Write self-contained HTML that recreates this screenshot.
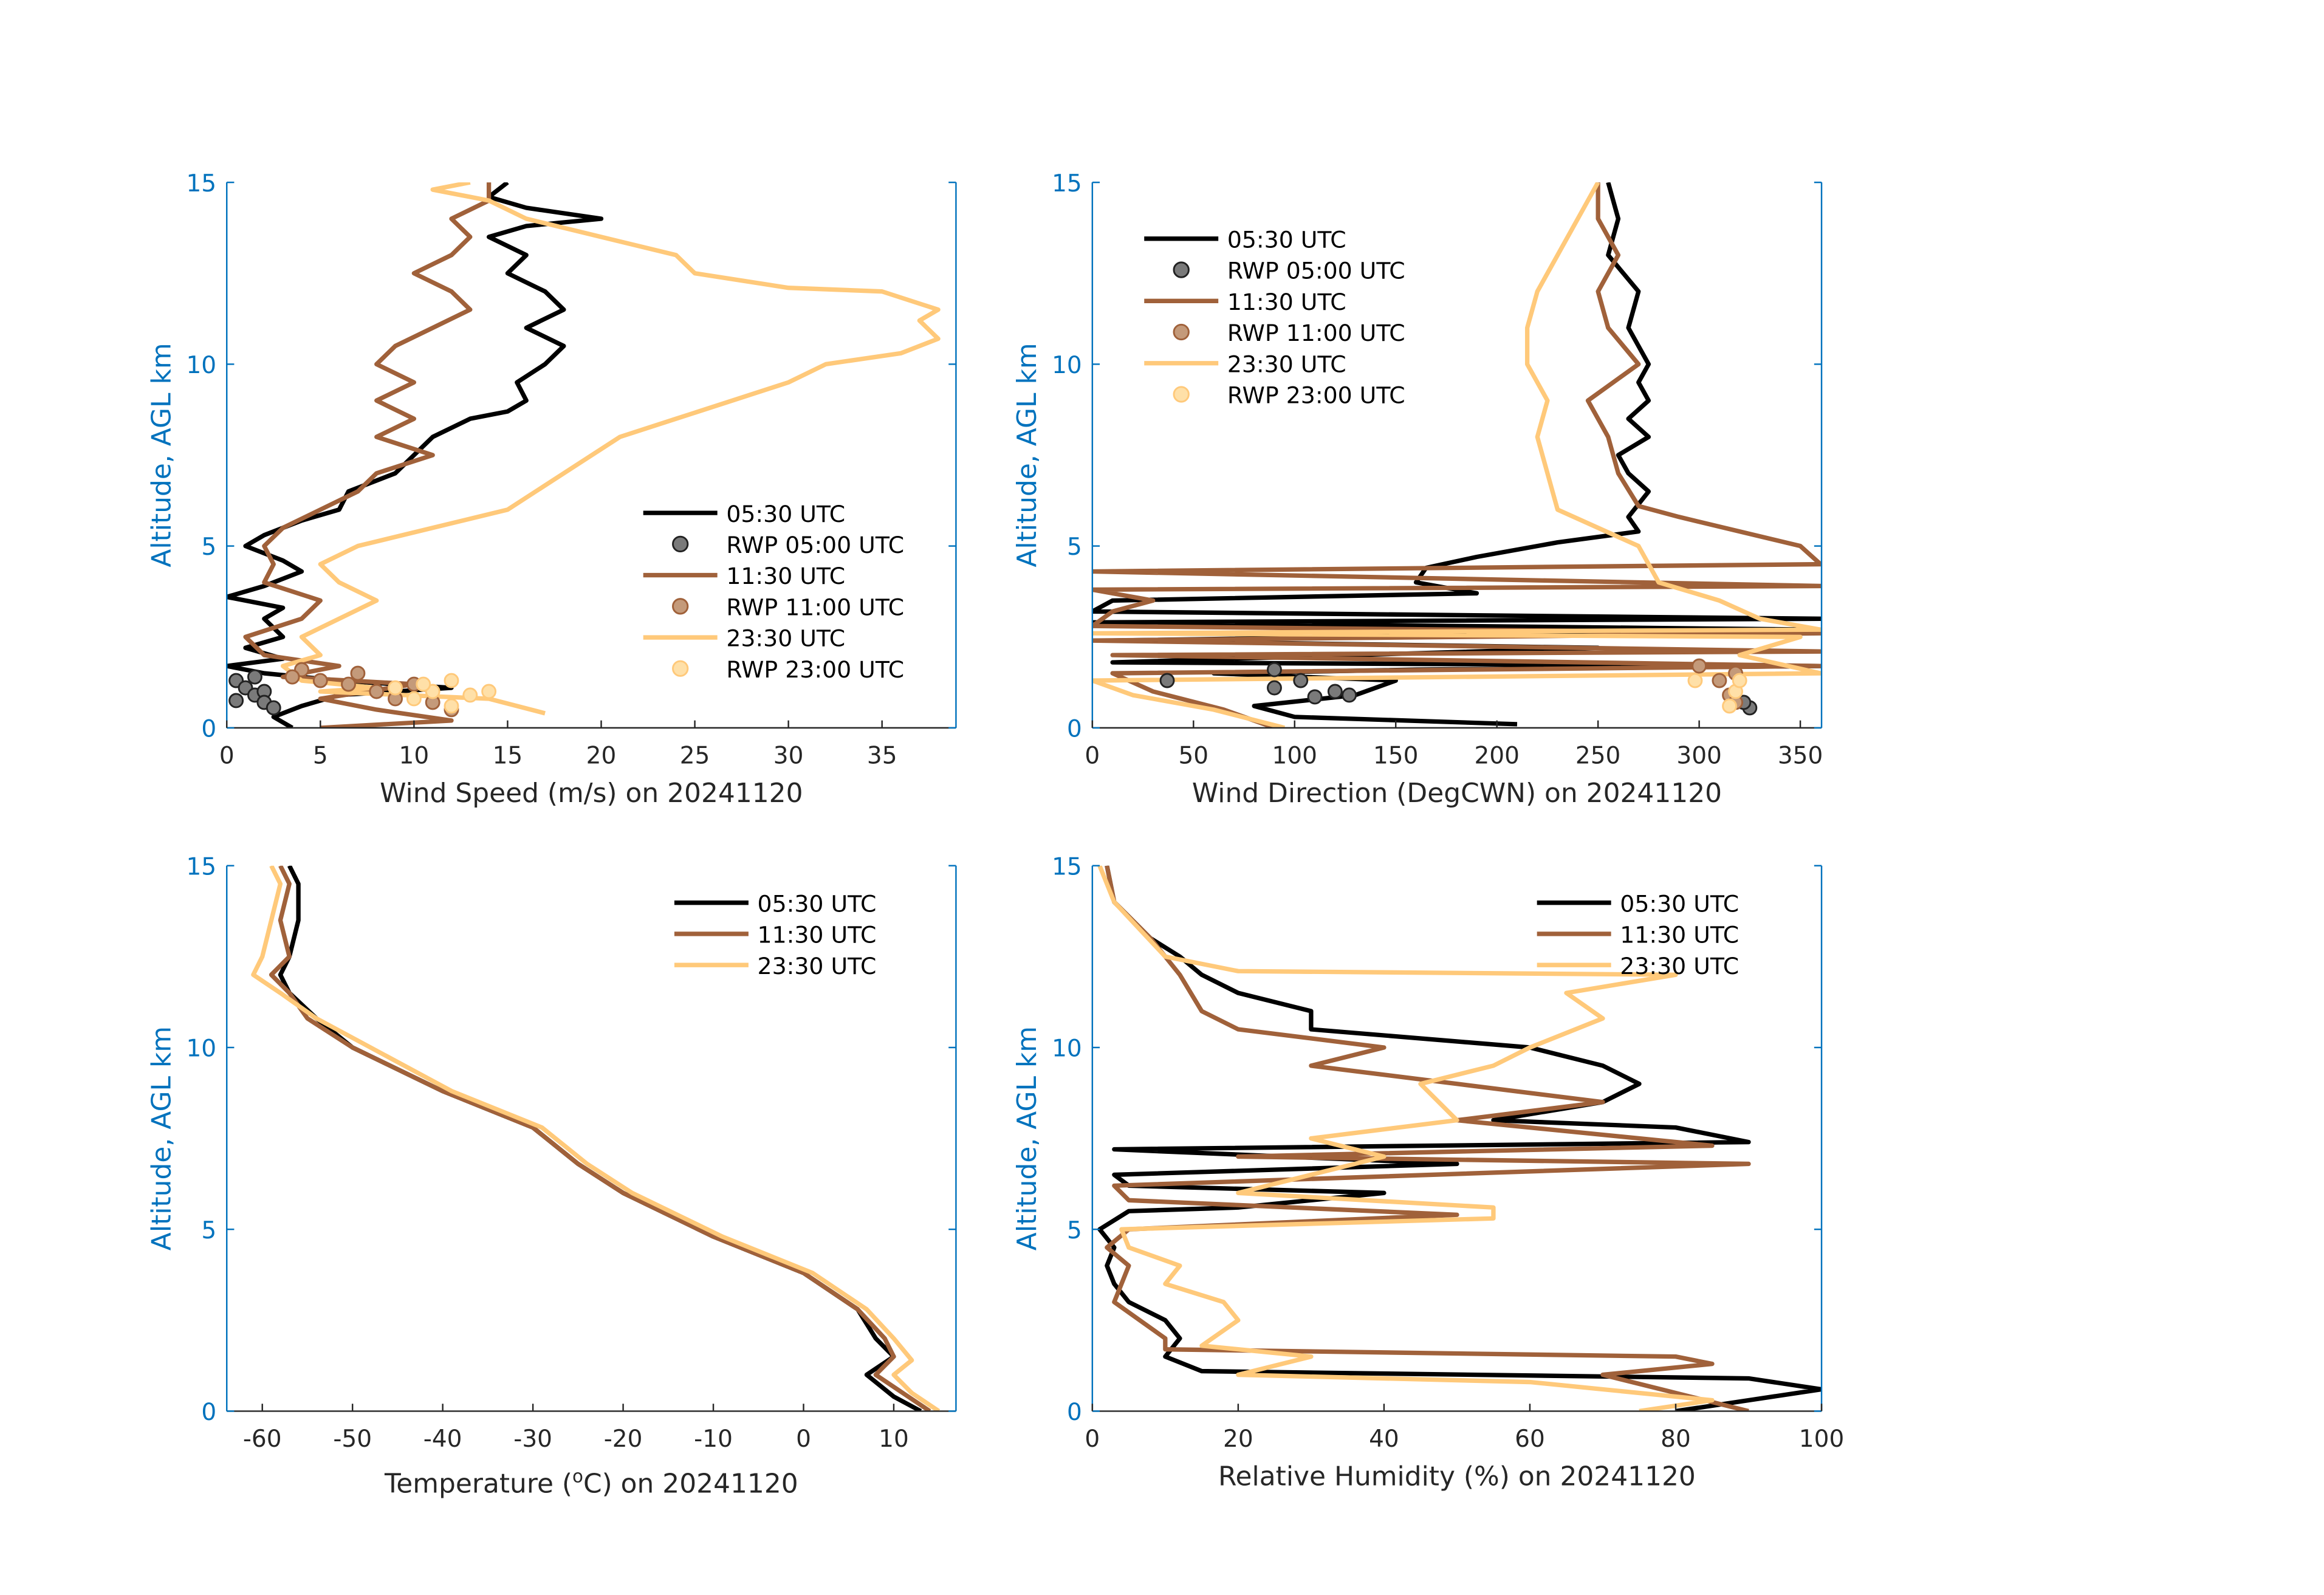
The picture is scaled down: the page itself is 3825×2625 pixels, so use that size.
<!DOCTYPE html>
<html><head><meta charset="utf-8">
<style>
html,body{margin:0;padding:0;background:#fff}
svg{display:block}
text{font-family:"DejaVu Sans","Liberation Sans",sans-serif}
</style></head>
<body>
<svg id="fig" xmlns="http://www.w3.org/2000/svg" width="3825" height="2625" viewBox="0 0 1568 1076">
<rect width="1568" height="1076" fill="#fff"/>
</svg>
<script>
// ---------- Data ----------
const seriesNames = ["05:30 UTC","11:30 UTC","23:30 UTC"];
const rwpNames = ["RWP 05:00 UTC","RWP 11:00 UTC","RWP 23:00 UTC"];
const altTicks = [0,5,10,15];
// Wind speed (value, km)
const ws0530 = [[3.5,0],[2.5,0.3],[4,0.6],[6,0.9],[12,1.1],[6,1.3],[2,1.5],[0,1.7],[3,1.9],[1,2.2],[3,2.5],[2,3],[3,3.3],[0,3.6],[2,3.9],[4,4.3],[3,4.6],[1,5],[2,5.3],[4,5.7],[6,6],[6.5,6.5],[9,7],[10,7.5],[11,8],[13,8.5],[15,8.7],[16,9],[15.5,9.5],[17,10],[18,10.5],[16,11],[18,11.5],[17,12],[15,12.5],[16,13],[14,13.5],[16,13.8],[20,14],[16,14.3],[14,14.6],[15,15]];
const ws1130 = [[5,0],[12,0.2],[8,0.5],[5,0.8],[10,1.2],[3,1.4],[6,1.7],[2,2],[1,2.5],[4,3],[5,3.5],[2,4],[2.5,4.5],[2,5],[3,5.5],[5,6],[7,6.5],[8,7],[11,7.5],[8,8],[10,8.5],[8,9],[10,9.5],[8,10],[9,10.5],[11,11],[13,11.5],[12,12],[10,12.5],[12,13],[13,13.5],[12,14],[14,14.5],[14,15]];
const ws2330 = [[17,0.4],[14,0.8],[5,1.0],[8,1.1],[4,1.3],[3,1.7],[5,2],[4,2.5],[8,3.5],[6,4],[5,4.5],[7,5],[11,5.5],[15,6],[18,7],[21,8],[24,8.5],[27,9],[30,9.5],[32,10],[36,10.3],[38,10.7],[37,11.2],[38,11.5],[35,12],[30,12.1],[25,12.5],[24,13],[20,13.5],[16,14],[14,14.5],[11,14.8],[13,15]];
const wsRwp0500 = [[0.5,0.75],[0.5,1.3],[1,1.1],[1.5,0.9],[2,1.0],[2,0.7],[2.5,0.55],[1.5,1.4]];
const wsRwp1100 = [[4,1.6],[5,1.3],[7,1.5],[6.5,1.2],[8,1.0],[9,0.8],[10,1.2],[11,0.7],[12,0.5],[3.5,1.4]];
const wsRwp2300 = [[10,0.8],[11,1.0],[12,0.6],[13,0.9],[14,1.0],[10.5,1.2],[12,1.3],[9,1.1]];
// Wind direction
const wd0530 = [[210,0.1],[100,0.3],[80,0.6],[130,0.9],[150,1.3],[60,1.5],[160,1.6],[360,1.7],[10,1.8],[250,2.2],[10,2.4],[360,2.7],[0,2.9],[360,3.0],[0,3.2],[10,3.5],[190,3.7],[160,4.0],[165,4.4],[190,4.7],[230,5.1],[270,5.4],[265,5.8],[275,6.5],[265,7],[260,7.5],[275,8],[265,8.5],[275,9],[270,9.5],[275,10],[265,11],[270,12],[255,13],[260,14],[255,15]];
const wd1130 = [[90,0],[65,0.5],[30,1],[10,1.5],[360,1.7],[10,2.0],[360,2.1],[0,2.4],[360,2.6],[0,2.8],[10,3.2],[30,3.5],[0,3.8],[360,3.9],[0,4.3],[360,4.5],[350,5],[320,5.4],[290,5.8],[270,6.1],[260,7],[255,8],[245,9],[270,10],[255,11],[250,12],[260,13],[250,14],[250,15]];
const wd2330 = [[95,0],[60,0.5],[20,0.9],[0,1.3],[360,1.5],[320,2],[350,2.5],[0,2.6],[360,2.7],[330,3],[310,3.5],[280,4],[270,5],[230,6],[225,7],[220,8],[225,9],[215,10],[215,11],[220,12],[230,13],[240,14],[250,15]];
const wdRwp0500 = [[37,1.3],[90,1.1],[90,1.6],[103,1.3],[110,0.85],[120,1.0],[127,0.9],[325,0.55],[322,0.7]];
const wdRwp1100 = [[300,1.7],[310,1.3],[318,1.5],[315,0.9],[318,0.7]];
const wdRwp2300 = [[298,1.3],[315,0.6],[318,1.0],[320,1.3]];
// Temperature
const t0530 = [[13,0],[10,0.4],[7,1],[10,1.5],[8,2],[6,2.8],[0,3.8],[-10,4.8],[-20,6],[-25,6.8],[-30,7.8],[-40,8.8],[-50,10],[-54,10.8],[-57,11.5],[-58,12],[-57,12.5],[-56,13.5],[-56,14.5],[-57,15]];
const t1130 = [[14,0],[11,0.5],[8,1],[10,1.5],[9,2],[6,2.8],[0,3.8],[-10,4.8],[-20,6],[-25,6.8],[-30,7.8],[-40,8.8],[-50,10],[-55,10.8],[-57,11.5],[-59,12],[-57,12.5],[-58,13.5],[-57,14.5],[-58,15]];
const t2330 = [[15,0],[12,0.5],[10,1],[12,1.4],[10,2],[7,2.8],[1,3.8],[-9,4.8],[-19,6],[-24,6.8],[-29,7.8],[-39,8.8],[-48,10],[-54,10.8],[-58,11.5],[-61,12],[-60,12.5],[-59,13.5],[-58,14.5],[-59,15]];
// Relative humidity
const rh0530 = [[80,0],[90,0.3],[100,0.6],[90,0.9],[15,1.1],[10,1.5],[12,2],[10,2.5],[5,3],[3,3.5],[2,4],[3,4.5],[1,5],[5,5.5],[20,5.6],[40,6],[5,6.2],[3,6.5],[50,6.8],[3,7.2],[90,7.4],[80,7.8],[55,8],[70,8.5],[75,9],[70,9.5],[60,10],[30,10.5],[30,11],[20,11.5],[15,12],[12,12.5],[8,13],[3,14],[2,15]];
const rh1130 = [[90,0],[80,0.5],[70,1],[85,1.3],[80,1.5],[10,1.7],[10,2],[3,3],[5,4],[2,4.5],[5,5],[50,5.4],[5,5.8],[3,6.2],[90,6.8],[20,7],[85,7.3],[50,8],[70,8.5],[50,9],[30,9.5],[40,10],[20,10.5],[15,11],[12,12],[8,13],[3,14],[2,15]];
const rh2330 = [[75,0],[85,0.3],[60,0.8],[20,1],[30,1.5],[15,1.8],[20,2.5],[18,3],[10,3.5],[12,4],[5,4.5],[4,5],[55,5.3],[55,5.6],[20,6],[40,7],[30,7.5],[50,8],[45,9],[55,9.5],[60,10],[70,10.8],[65,11.5],[80,12],[20,12.1],[10,12.5],[3,14],[1,15]];

const colors=["#000000","#A0613A","#FFC97A"];
const ptFill=["#7a7a7a","#c49a7a","#ffe0a8"];
const NS="http://www.w3.org/2000/svg";
const svg=document.getElementById('fig');
function el(tag,attrs,parent){const e=document.createElementNS(NS,tag);for(const k in attrs)e.setAttribute(k,attrs[k]);(parent||svg).appendChild(e);return e;}

function panel(cfg){
  const g=el('g',{});
  
  
  const {x0,x1,y0,y1,xmin,xmax}=cfg;
  const sx=v=>x0+(v-xmin)/(xmax-xmin)*(x1-x0);
  const sy=v=>y0-(v/15)*(y0-y1);
  const cid='clip-'+cfg.name;
  const defs=el('defs',{},g);
  const cp=el('clipPath',{id:cid},defs);
  el('rect',{x:x0,y:y1,width:x1-x0,height:y0-y1},cp);
  const pg=el('g',{'clip-path':`url(#${cid})`},g);
  cfg.lines.forEach((d,i)=>{
    const p=el('polyline',{points:d.map(q=>sx(q[0])+','+sy(q[1])).join(' '),fill:'none',stroke:colors[i],'stroke-width':3,'stroke-linejoin':'round'},pg);
    
    
  });
  (cfg.points||[]).forEach((d,i)=>{
    d.forEach(q=>{
      const c=el('circle',{cx:sx(q[0]),cy:sy(q[1]),r:4.5,fill:ptFill[i],stroke:i==0?'#222':colors[i],'stroke-width':1.2},pg);
      
      
    });
  });
  el('line',{x1:x0,y1:y1,x2:x0,y2:y0,stroke:'#0072BD','stroke-width':1},g);
  el('line',{x1:x1,y1:y1,x2:x1,y2:y0,stroke:'#0072BD','stroke-width':1},g);
  el('line',{x1:x0,y1:y0,x2:x1,y2:y0,stroke:'#262626','stroke-width':1},g);
  altTicks.forEach(t=>{
    const y=sy(t);
    el('line',{x1:x0,y1:y,x2:x0+5,y2:y,stroke:'#0072BD'},g);
    el('line',{x1:x1,y1:y,x2:x1-5,y2:y,stroke:'#0072BD'},g);
    const tx=el('text',{x:x0-7,y:y+6,'text-anchor':'end','font-size':16,fill:'#0072BD'},g);
    tx.textContent=t;
    
    
  });
  cfg.xticks.forEach(t=>{
    const x=sx(t);
    el('line',{x1:x,y1:y0,x2:x,y2:y0-5,stroke:'#262626'},g);
    const tx=el('text',{x:x,y:y0+24,'text-anchor':'middle','font-size':16,fill:'#262626'},g);
    tx.textContent=t;
    
    
  });
  const yl=el('text',{x:0,y:0,transform:`translate(${x0-38},${(y0+y1)/2}) rotate(-90)`,'text-anchor':'middle','font-size':18,fill:'#0072BD'},g);
  yl.textContent='Altitude, AGL km';
  
  
  const xl=el('text',{x:(x0+x1)/2,y:y0+cfg.xlabDy,'text-anchor':'middle','font-size':18,fill:'#262626'},g);
  if(cfg.xhtml){xl.innerHTML=cfg.xhtml;}else xl.textContent=cfg.xlab;
  
  
  const lg=el('g',{},g);
  
  
  let ly=cfg.legY;
  const lx=cfg.legX;
  for(let i=0;i<3;i++){
    const e=el('g',{},lg);
    
    
    el('line',{x1:lx,y1:ly,x2:lx+50,y2:ly,stroke:colors[i],'stroke-width':3},e);
    const t=el('text',{x:lx+56,y:ly+6,'font-size':15.5,fill:'#000'},e);t.textContent=seriesNames[i];
    ly+=21;
    if(cfg.points){
      const e2=el('g',{},lg);
      
      
      el('circle',{cx:lx+25,cy:ly,r:5,fill:ptFill[i],stroke:i==0?'#222':colors[i],'stroke-width':1.2},e2);
      const t2=el('text',{x:lx+56,y:ly+6,'font-size':15.5,fill:'#000'},e2);t2.textContent=rwpNames[i];
      ly+=21;
    }
  }
}

panel({name:'wind-speed-panel',x0:153,x1:645,y0:491,y1:123,xmin:0,xmax:38.95,xticks:[0,5,10,15,20,25,30,35],
  xlab:'Wind Speed (m/s) on 20241120',xlabDy:50,lines:[ws0530,ws1130,ws2330],points:[wsRwp0500,wsRwp1100,wsRwp2300],legX:434,legY:346});
panel({name:'wind-direction-panel',x0:737,x1:1229,y0:491,y1:123,xmin:0,xmax:360.5,xticks:[0,50,100,150,200,250,300,350],
  xlab:'Wind Direction (DegCWN) on 20241120',xlabDy:50,lines:[wd0530,wd1130,wd2330],points:[wdRwp0500,wdRwp1100,wdRwp2300],legX:772,legY:161});
panel({name:'temperature-panel',x0:153,x1:645,y0:952,y1:584,xmin:-63.94,xmax:16.9,xticks:[-60,-50,-40,-30,-20,-10,0,10],
  xhtml:'Temperature (<tspan baseline-shift="super" font-size="12">o</tspan>C) on 20241120',xlabDy:55,lines:[t0530,t1130,t2330],legX:455,legY:609});
panel({name:'humidity-panel',x0:737,x1:1229,y0:952,y1:584,xmin:0,xmax:100,xticks:[0,20,40,60,80,100],
  xlab:'Relative Humidity (%) on 20241120',xlabDy:50,lines:[rh0530,rh1130,rh2330],legX:1037,legY:609});
</script>
</body></html>
